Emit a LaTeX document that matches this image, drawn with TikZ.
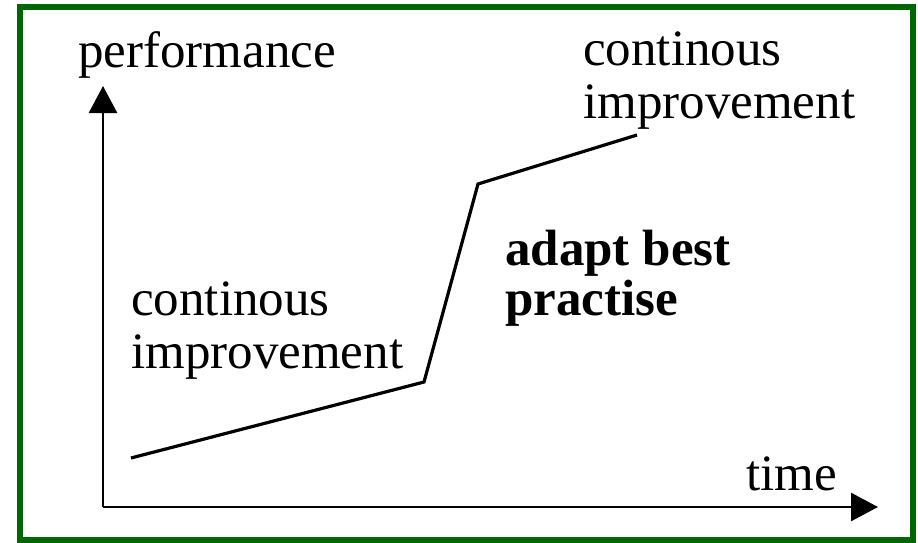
\documentclass[tikz,border=0pt]{standalone}
\usepackage{fontspec}
\setmainfont{Liberation Serif}
\usetikzlibrary{arrows.meta}
\definecolor{framegreen}{RGB}{0,102,0}
\begin{document}
\begin{tikzpicture}[x=1pt,y=-1pt,
  axis/.style={line width=2.6pt,-{Triangle[length=27pt,width=28pt]}},
  curve/.style={line width=3.2pt,line join=miter},
  lbl/.style={inner sep=0pt,anchor=base west,align=left,font=\fontsize{51}{53}\selectfont},
  blbl/.style={lbl,font=\fontsize{51}{50}\selectfont\bfseries}]
\useasboundingbox (0,0) rectangle (918,543);
\draw[framegreen,line width=6pt] (20,7) rectangle (913,540);
\coordinate (o) at (103,507);
\coordinate (ytip) at (103,86);
\coordinate (xtip) at (878,507);
\draw[axis] (o) -- (ytip);
\draw[axis] (o) -- (xtip);
\coordinate (p1) at (131,458);
\coordinate (p2) at (424,382);
\coordinate (p3) at (478,184);
\coordinate (p4) at (637,135);
\draw[curve] (p1) -- (p2) -- (p3) -- (p4);
\node[lbl] (perf) at (78,67) {performance};
\node[lbl] (time) at (746,490) {time};
\node[lbl] (ci1) at (583,118) {continous\\improvement};
\node[lbl] (ci2) at (131,368) {continous\\improvement};
\node[blbl] (abp) at (505,315) {adapt best\\practise};
\end{tikzpicture}
\end{document}
